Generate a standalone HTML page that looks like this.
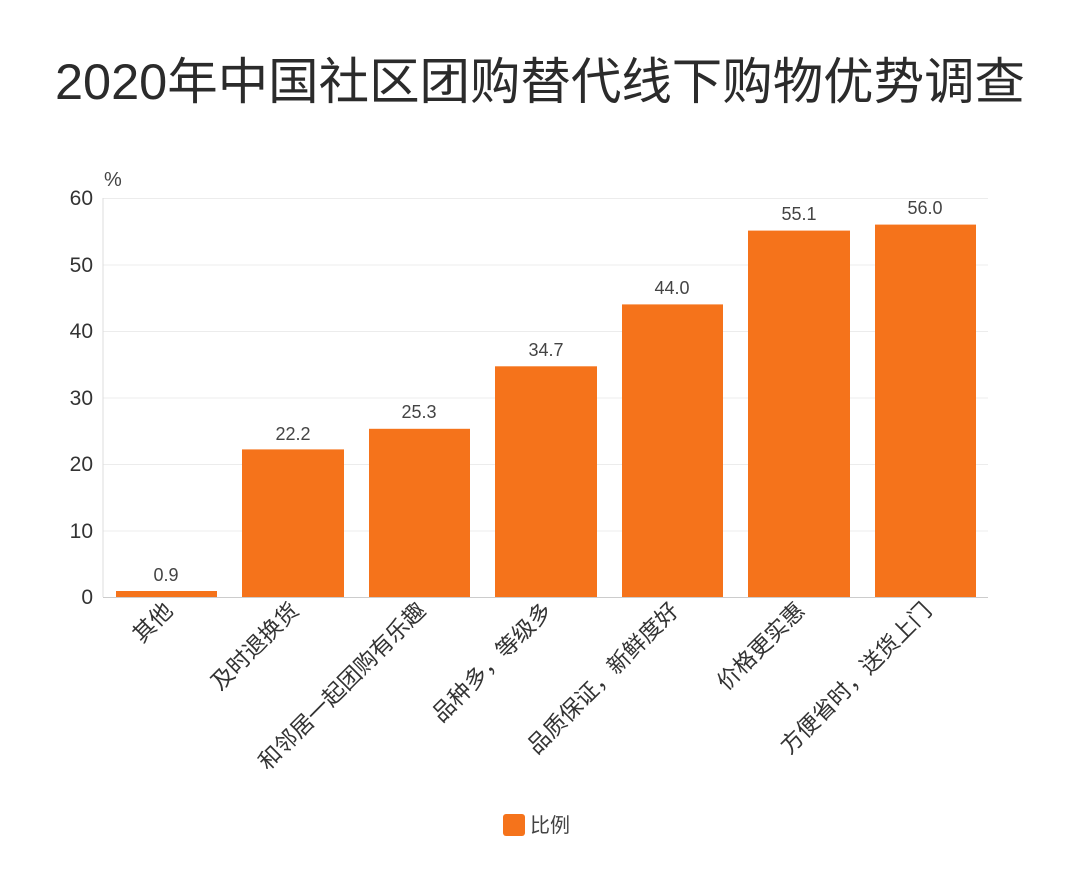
<!DOCTYPE html>
<html><head><meta charset="utf-8"><style>
body{margin:0;background:#fff;}
svg text{font-family:"Liberation Sans","Noto Sans CJK SC",sans-serif;}
</style></head><body>
<svg width="1080" height="870" xmlns="http://www.w3.org/2000/svg">
<rect width="1080" height="870" fill="#fff"/>
<text x="540" y="99" text-anchor="middle" font-size="50" fill="#2b2b2b" textLength="970" lengthAdjust="spacingAndGlyphs">2020年中国社区团购替代线下购物优势调查</text>
<text x="104" y="186" font-size="20" fill="#444">%</text>
<g stroke="#ececec" stroke-width="1">
<line x1="103" y1="198.5" x2="988" y2="198.5"/>
<line x1="103" y1="265" x2="988" y2="265"/>
<line x1="103" y1="331.5" x2="988" y2="331.5"/>
<line x1="103" y1="398" x2="988" y2="398"/>
<line x1="103" y1="464.5" x2="988" y2="464.5"/>
<line x1="103" y1="531" x2="988" y2="531"/>
</g>
<line x1="103" y1="198" x2="103" y2="597" stroke="#ddd"/>
<line x1="103" y1="597.5" x2="988" y2="597.5" stroke="#ccc"/>
<g font-size="21" fill="#333" text-anchor="end">
<text x="93" y="205">60</text><text x="93" y="272">50</text><text x="93" y="338">40</text>
<text x="93" y="405">30</text><text x="93" y="471">20</text><text x="93" y="538">10</text><text x="93" y="604">0</text>
</g>
<g fill="#f5731b">
<rect x="116" y="591" width="101" height="6"/>
<rect x="242" y="449.4" width="102" height="147.6"/>
<rect x="369" y="428.8" width="101" height="168.2"/>
<rect x="495" y="366.3" width="102" height="230.7"/>
<rect x="622" y="304.4" width="101" height="292.6"/>
<rect x="748" y="230.6" width="102" height="366.4"/>
<rect x="875" y="224.6" width="101" height="372.4"/>
</g>
<g font-size="18" fill="#444" text-anchor="middle">
<text x="166" y="581">0.9</text><text x="293" y="440">22.2</text><text x="419" y="418">25.3</text>
<text x="546" y="356">34.7</text><text x="672" y="294">44.0</text><text x="799" y="220">55.1</text><text x="925" y="214">56.0</text>
</g>
<g font-size="22.5" fill="#333" text-anchor="end">
<text transform="translate(174,612) rotate(-45)">其他</text>
<text transform="translate(300,612) rotate(-45)">及时退换货</text>
<text transform="translate(427,612) rotate(-45)">和邻居一起团购有乐趣</text>
<text transform="translate(553,612) rotate(-45)">品种多，等级多</text>
<text transform="translate(680,612) rotate(-45)">品质保证，新鲜度好</text>
<text transform="translate(806,612) rotate(-45)">价格更实惠</text>
<text transform="translate(933,612) rotate(-45)">方便省时，送货上门</text>
</g>
<rect x="503" y="814" width="22" height="22" rx="3" fill="#f5731b"/>
<text x="530" y="832" font-size="20" fill="#444">比例</text>
</svg>
</body></html>
